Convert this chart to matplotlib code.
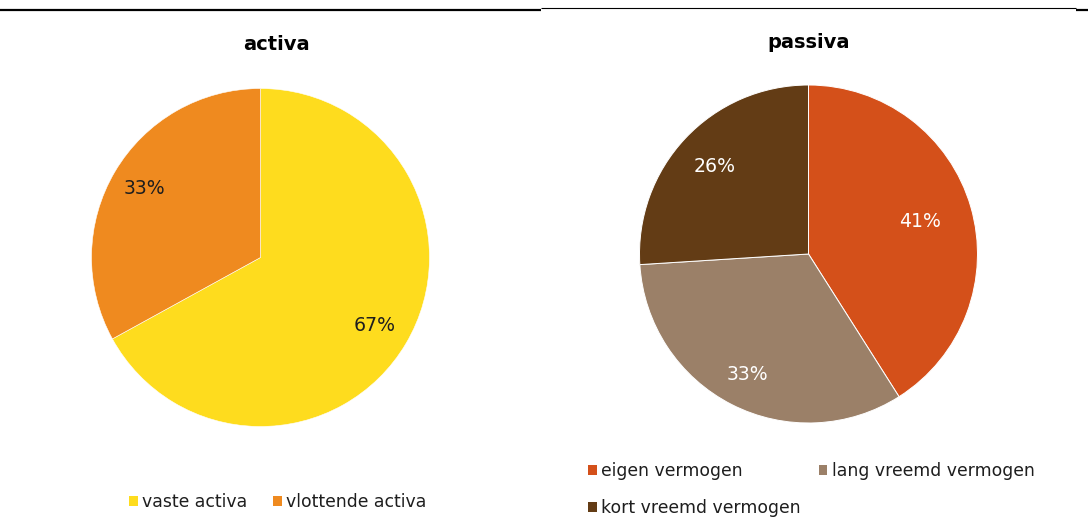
import matplotlib
matplotlib.use("Agg")
import matplotlib.pyplot as plt
import numpy as np
from matplotlib.patches import Patch
from matplotlib.lines import Line2D

# ---- data ----
activa_labels = ["vaste activa", "vlottende activa"]
activa_values = [67, 33]
activa_colors = ["#FEDC1E", "#EF8A1F"]

passiva_labels = ["eigen vermogen", "lang vreemd vermogen", "kort vreemd vermogen"]
passiva_values = [41, 33, 26]
passiva_colors = ["#D4501A", "#9B8068", "#633C15"]

W, H = 1088, 531
fig = plt.figure(figsize=(W / 100, H / 100), dpi=100)
fig.patch.set_facecolor("white")

FS = 12.4
LFS = 13.6


def fx(px):
    return px / W


def fy(py):
    return 1 - py / H


def pie_axes(cx, cy, r):
    return fig.add_axes([fx(cx - r), fy(cy + r), 2 * r / W, 2 * r / H])


def draw_pie(ax, values, colors, txtcolor, dists, ew):
    ax.pie(values, colors=colors, startangle=90, counterclock=False,
           wedgeprops=dict(edgecolor="white", linewidth=ew), radius=1.0)
    total = sum(values)
    start = 90.0
    for v, d in zip(values, dists):
        ang = np.deg2rad(start - v / total * 180.0)
        ax.text(d * np.cos(ang), d * np.sin(ang), f"{v}%", ha="center", va="center",
                fontsize=LFS, color=txtcolor, family="DejaVu Sans")
        start -= v / total * 360.0
    ax.set_xlim(-1, 1)
    ax.set_ylim(-1, 1)
    ax.set_aspect("equal")
    ax.axis("off")


ax1 = pie_axes(260.5, 257.5, 169)
draw_pie(ax1, activa_values, activa_colors, "#1E1E1E", [0.785, 0.80], 0.4)

ax2 = pie_axes(808.5, 254, 169)
draw_pie(ax2, passiva_values, passiva_colors, "white", [0.69, 0.80, 0.76], 0.7)

# titles
fig.text(fx(276), fy(45), "activa", ha="center", va="center", fontsize=14,
         fontweight="bold", color="black")
fig.text(fx(809), fy(42), "passiva", ha="center", va="center", fontsize=14,
         fontweight="bold", color="black")

# legends
h1 = [Patch(facecolor=c, edgecolor="none") for c in activa_colors]
leg1 = fig.legend(h1, activa_labels, loc="center left",
                  bbox_to_anchor=(fx(129), fy(502)), ncol=2, frameon=False,
                  fontsize=FS, handlelength=0.5, handleheight=0.5,
                  handletextpad=0.25, columnspacing=1.5, borderpad=0,
                  borderaxespad=0)

order = [0, 2, 1]
h2 = [Patch(facecolor=passiva_colors[i], edgecolor="none") for i in order]
l2 = [passiva_labels[i] for i in order]
leg2 = fig.legend(h2, l2, loc="upper left",
                  bbox_to_anchor=(fx(588), fy(462)), ncol=2, frameon=False,
                  fontsize=FS, handlelength=0.5, handleheight=0.5,
                  handletextpad=0.25, columnspacing=1.05, borderpad=0,
                  borderaxespad=0, labelspacing=1.1)
for leg in (leg1, leg2):
    for t in leg.get_texts():
        t.set_color("#1E1E1E")

# top rules
fig.add_artist(Line2D([0, fx(541)], [fy(9.5), fy(9.5)], color="black", lw=1.6,
                      solid_capstyle="butt"))
fig.add_artist(Line2D([fx(541), fx(1076)], [fy(8.3), fy(8.3)], color="black", lw=0.8,
                      solid_capstyle="butt"))
fig.add_artist(Line2D([fx(1076), 1], [fy(9.5), fy(9.5)], color="black", lw=1.6,
                      solid_capstyle="butt"))

fig.savefig("out.png", dpi=100, facecolor="white")
